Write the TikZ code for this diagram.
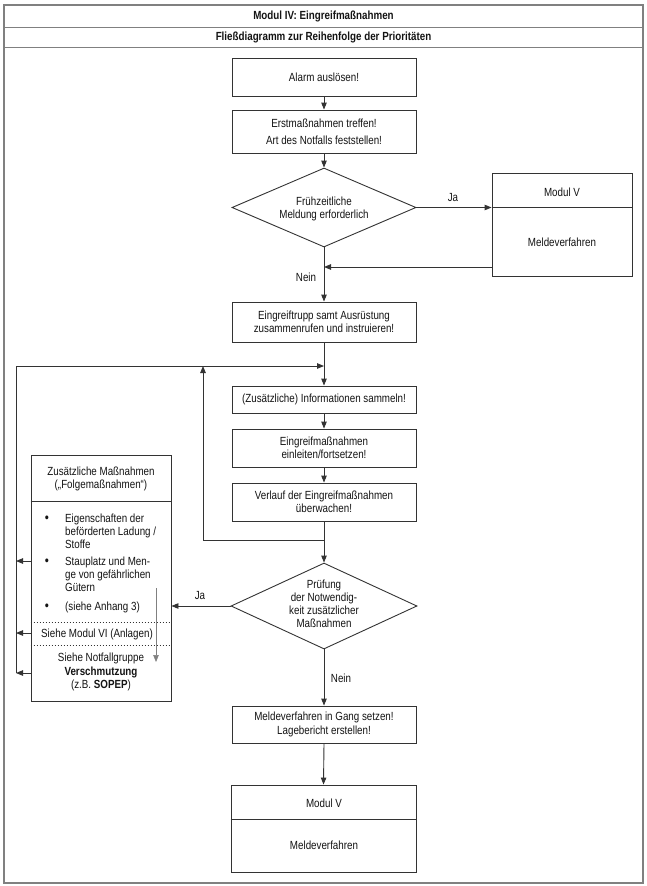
\documentclass[tikz,border=0pt]{standalone}
\usepackage{fontspec}
\setmainfont{Liberation Sans}[FakeStretch=0.83]
\usetikzlibrary{arrows.meta,shapes.geometric}
\newcommand\myfs{\fontsize{11.8pt}{13pt}\selectfont}
\definecolor{lnc}{HTML}{333333}
\definecolor{frc}{HTML}{808080}
\definecolor{txc}{HTML}{141414}
\begin{document}
\begin{tikzpicture}[x=1pt,y=-1pt,
 every node/.style={font=\myfs, text=txc},
 box/.style={draw=lnc, line width=0.9pt, inner sep=0pt, align=center, minimum width=184pt},
 dia/.style={draw=lnc, line width=0.9pt, diamond, inner sep=0pt},
 plainbox/.style={draw=lnc, line width=0.9pt, inner sep=0pt},
 arr/.style={draw=lnc, line width=0.9pt, -{Triangle[length=7pt,width=5.5pt]}},
 plain/.style={draw=lnc, line width=0.9pt},
 dotline/.style={draw=lnc, line width=0.7pt, dash pattern=on 1.5pt off 1.5pt},
 lbl/.style={inner sep=0pt},
 bul/.style={inner sep=0pt, anchor=base, font=\fontsize{14pt}{14pt}\selectfont},
 frame/.style={draw=frc, line width=1.4pt}]
\useasboundingbox (0,0) rectangle (647,886);
\fill[white] (0,0) rectangle (647,886);
% outer frame and title rows
\draw[frame] (4,5) rectangle (643,883);
\draw[frame, line width=1pt] (4,27) -- (643,27);
\draw[frame, line width=1pt] (4,47) -- (643,47);
\node[lbl, font=\myfs\bfseries] (t1) at (323.5,16) {Modul IV: Eingreifmaßnahmen};
\node[lbl, font=\myfs\bfseries] (t2) at (323.5,37) {Fließdiagramm zur Reihenfolge der Prioritäten};

% main column
\node[box, minimum height=38pt] (alarm) at (324,77) {Alarm auslösen!};
\node[box, minimum height=43pt] (erst) at (324,131.5) {Erstmaßnahmen treffen!\\[4pt]Art des Notfalls feststellen!};
\node[dia, minimum width=184pt, minimum height=79pt] (d1) at (324,207.5) {};
\node[lbl, align=center] (d1t) at (324,209) {Frühzeitliche\\Meldung erforderlich};

\node[plainbox, minimum width=140pt, minimum height=103pt] (mv1) at (562,224.5) {};
\draw[plain, line width=1.2pt] (mv1.west |- d1.east) -- (mv1.east |- d1.east);
\node[lbl] (mv1a) at (562,192) {Modul V};
\node[lbl] (mv1b) at (562,242) {Meldeverfahren};
\node[lbl] (ja1) at (453,197) {Ja};
\coordinate (r1) at (324,267);
\node[lbl] (nein1) at (306,277) {Nein};

\node[box, minimum height=40pt] (eing) at (324,322) {Eingreiftrupp samt Ausrüstung\\zusammenrufen und instruieren!};
\node[box, minimum height=27pt] (info) at (324,399.5) {(Zusätzliche) Informationen sammeln!};
\node[box, minimum height=38pt] (einl) at (324,448) {Eingreifmaßnahmen\\einleiten/fortsetzen!};
\node[box, minimum height=38pt] (verl) at (324,502) {Verlauf der Eingreifmaßnahmen\\überwachen!};
\node[dia, minimum width=186pt, minimum height=86pt] (d2) at (324,606) {};
\node[lbl, align=center] (d2t) at (324,604) {Prüfung\\der Notwendig-\\keit zusätzlicher\\Maßnahmen};
\node[lbl] (ja2) at (200,595) {Ja};
\node[lbl] (nein2) at (341,678) {Nein};
\node[box, minimum height=37pt] (meld) at (324,724.5) {Meldeverfahren in Gang setzen!\\[1pt]Lagebericht erstellen!};
\node[plainbox, minimum width=185pt, minimum height=87pt] (mv2) at (323.5,828.5) {};
\coordinate (dv2) at (324,819);
\draw[plain] (mv2.west |- dv2) -- (mv2.east |- dv2);
\node[lbl] (mv2a) at (324,803) {Modul V};
\node[lbl] (mv2b) at (324,845) {Meldeverfahren};

% main arrows
\draw[arr] (alarm.south) -- (erst.north);
\draw[arr] (erst.south) -- (d1.north);
\draw[arr] (d1.east) -- (d1.east -| mv1.west);
\draw[arr] (mv1.west |- r1) -- (r1);
\draw[arr] (d1.south) -- (eing.north);
\draw[arr] (eing.south) -- (info.north);
\draw[arr] (info.south) -- (einl.north);
\draw[arr] (einl.south) -- (verl.north);
\draw[arr] (verl.south) -- (d2.north);
\draw[arr] (d2.south) -- (meld.north);
\draw[arr] (meld.south) -- (mv2.north);

% loops
\coordinate (j2) at (324,540);
\coordinate (l2) at (203,540);
\coordinate (t2c) at (203,366);
\draw[arr] (j2) -- (l2) -- (t2c);
\coordinate (j1) at (324,366);
\coordinate (c1) at (16,366);
\coordinate (c2) at (16,673);
\draw[arr] (c2) -- (c1) -- (j1);

% left box
\node[plainbox, minimum width=140pt, minimum height=246pt] (zm) at (101,578) {};
\coordinate (dz1) at (101,501);
\coordinate (dz2) at (101,622);
\coordinate (dz3) at (101,645);
\draw[plain] (zm.west |- dz1) -- (zm.east |- dz1);
\draw[dotline] (zm.west |- dz2) -- (zm.east |- dz2);
\draw[dotline] (zm.west |- dz3) -- (zm.east |- dz3);
\node[lbl, align=center] (zh) at (101,479) {Zusätzliche Maßnahmen\\(„Folgemaßnahmen“)};
\node[bul] (b1) at (47,522) {•};
\node[lbl, anchor=base west] (b1a) at (65,522) {Eigenschaften der};
\node[lbl, anchor=base west] (b1b) at (65,535) {beförderten Ladung /};
\node[lbl, anchor=base west] (b1c) at (65,548) {Stoffe};
\node[bul] (b2) at (47,565) {•};
\node[lbl, anchor=base west] (b2a) at (65,565) {Stauplatz und Men-};
\node[lbl, anchor=base west] (b2b) at (65,578) {ge von gefährlichen};
\node[lbl, anchor=base west] (b2c) at (65,591) {Gütern};
\node[bul] (b3) at (47,610) {•};
\node[lbl, anchor=base west] (b3a) at (65,610) {(siehe Anhang 3)};
\node[lbl, anchor=base] (zs) at (97,637) {Siehe Modul VI (Anlagen)};
\node[lbl, align=center] (zn) at (101,671.5) {Siehe Notfallgruppe\\[1pt]\textbf{Verschmutzung}\\(z.B. \textbf{SOPEP})};

\coordinate (ia1) at (156,588);
\coordinate (ia2) at (156,662);
\draw[arr, draw=gray, line width=0.6pt] (ia1) -- (ia2);

\draw[arr] (d2.west) -- (d2.west -| zm.east);
\coordinate (a1) at (16,561);
\coordinate (a2) at (16,633);
\coordinate (a3) at (16,673);
\draw[arr] (zm.west |- a1) -- (a1);
\draw[arr] (zm.west |- a2) -- (a2);
\draw[arr] (zm.west |- a3) -- (a3);
\end{tikzpicture}
\end{document}
